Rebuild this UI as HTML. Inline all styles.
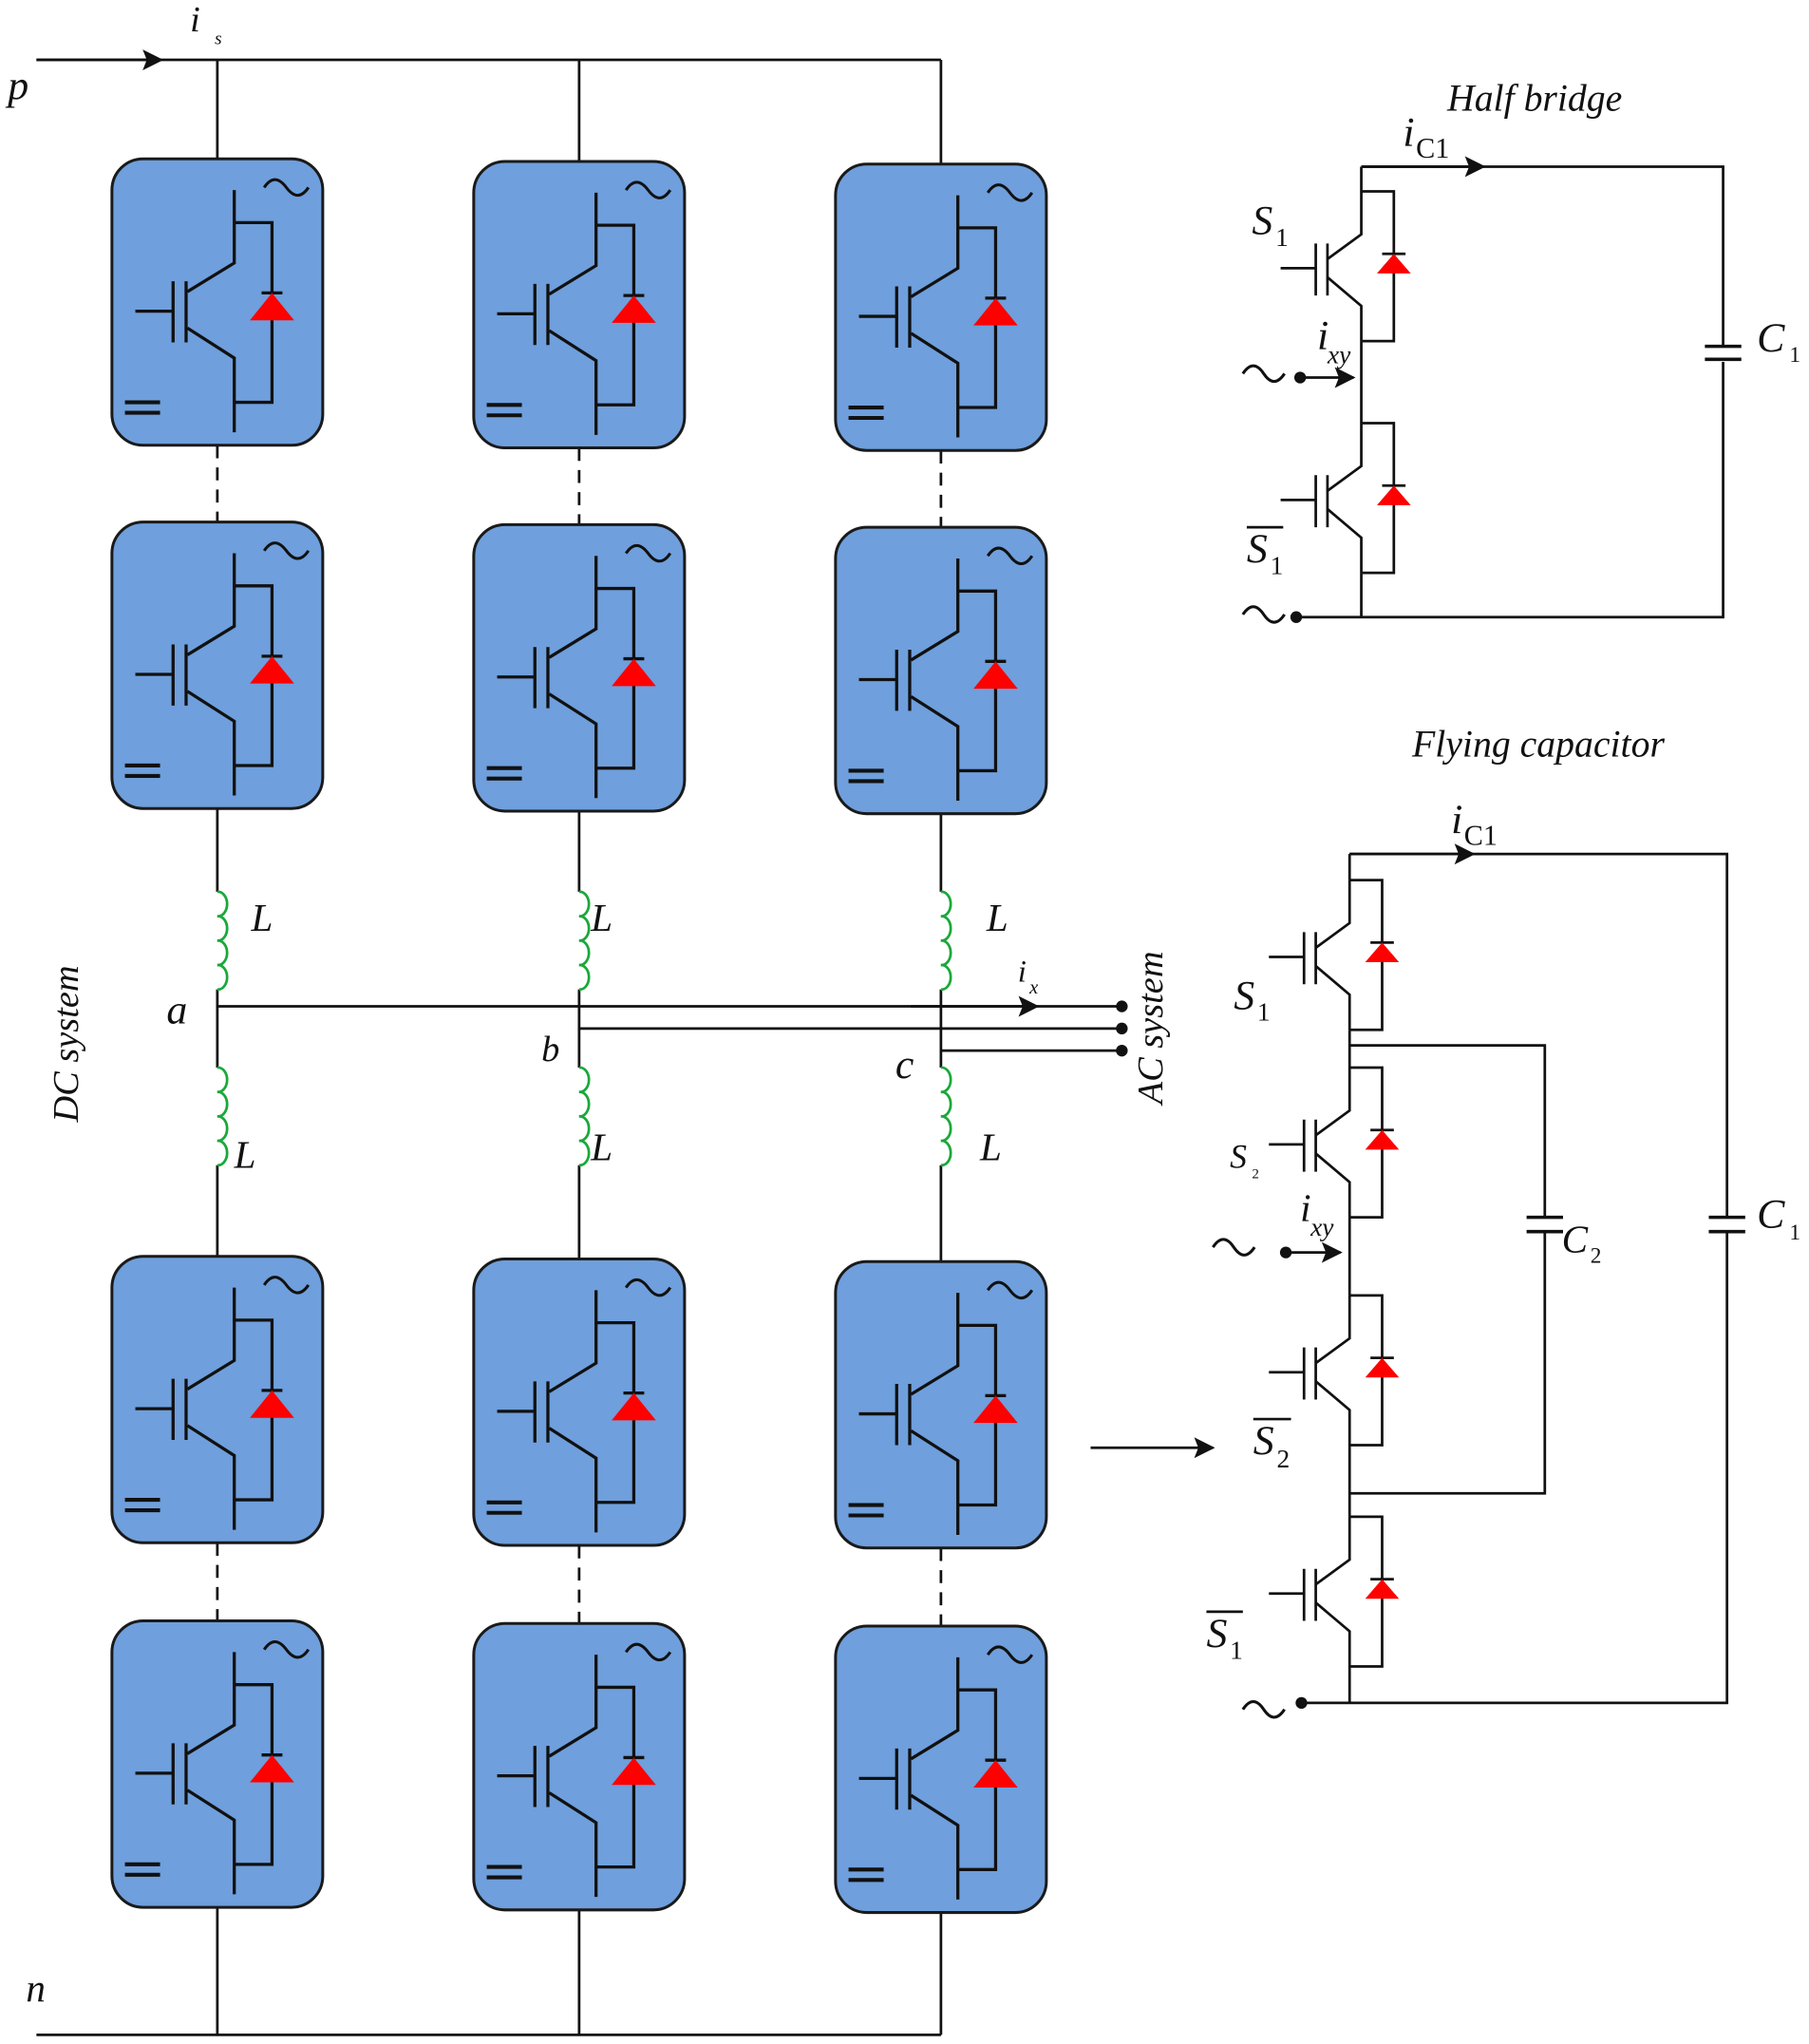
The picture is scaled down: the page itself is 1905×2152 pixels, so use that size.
<!DOCTYPE html>
<html><head><meta charset="utf-8"><style>
html,body{margin:0;padding:0;background:#fff;}
svg{display:block;}
text{font-family:"Liberation Serif","DejaVu Serif",serif;font-style:italic;fill:#111;}
text.n{font-style:normal;}
</style></head><body>
<svg width="1905" height="2152" viewBox="0 0 1390 1570" preserveAspectRatio="none" xmlns="http://www.w3.org/2000/svg" font-family="Liberation Serif, serif">
<defs>
<marker id="ar" viewBox="0 0 10 10" refX="9" refY="5" markerWidth="8" markerHeight="8" orient="auto"><path d="M0,0 L10,5 L0,10 L2,5 Z" fill="#111"/></marker>
<g id="mod">
  <rect x="0" y="0" width="162" height="220" rx="24" ry="24" fill="#6f9fdc" stroke="#1a1a1a" stroke-width="2.2"/>
  <g fill="none" stroke="#111" stroke-width="2.4">
    <path d="M94,24 V80 L58,102"/>
    <path d="M94,49 H123 V187 H94"/>
    <path d="M58,130 L94,153 V210"/>
    <path d="M47,94 V141 M57,94 V141"/>
    <path d="M18,117 H47"/>
    <path d="M115,103 H131"/>
    <path d="M117,22 q8,-12 17,0 t17,0" stroke-width="2.2"/>
    <path d="M10,187 H37 M10,195 H37" stroke-width="3"/>
  </g>
  <path d="M123,103 L140,124 L106,124 Z" fill="#ff0000"/>
</g>
<g id="sw">
  <g fill="none" stroke="#111" stroke-width="2">
    <path d="M0,0 H25 V115 H0"/>
    <path d="M0,0 V33 L-26,52"/>
    <path d="M-26,66 L0,88 V115"/>
    <path d="M-26,40 V80 M-35,40 V80"/>
    <path d="M-62,59 H-35"/>
    <path d="M16,48 H34"/>
  </g>
  <path d="M25,48 L38,63 L12,63 Z" fill="#ff0000"/>
</g>
</defs>

<g fill="none" stroke="#111" stroke-width="2">
  <path d="M28,46 H723"/>
  <path d="M28,46 H124" marker-end="url(#ar)"/>
  <path d="M28,1563 H723"/>
  <path d="M167,46 V122 M167,621 V685 M167,760 V820 M167,895 V965 M167,1465 V1563"/>
  <path d="M445,46 V124 M445,623 V685 M445,760 V820 M445,895 V967 M445,1467 V1563"/>
  <path d="M723,46 V126 M723,625 V685 M723,760 V820 M723,895 V969 M723,1469 V1563"/>
  <path d="M167,342 V401 M445,344 V403 M723,346 V405 M167,1185 V1245 M445,1187 V1247 M723,1189 V1249" stroke-dasharray="10,7"/>
  <path d="M167,773 H862 M445,790 H862 M723,807 H862"/>
  <path d="M700,773 H797" marker-end="url(#ar)"/>
  <path d="M838,1112 H932" marker-end="url(#ar)"/>
</g>
<circle cx="862" cy="773" r="4.5" fill="#111"/>
<circle cx="862" cy="790" r="4.5" fill="#111"/>
<circle cx="862" cy="807" r="4.5" fill="#111"/>

<g fill="none" stroke="#1aa83a" stroke-width="2">
  <path d="M167,685 a7,9.4 0 1 1 0,18.75 a7,9.4 0 1 1 0,18.75 a7,9.4 0 1 1 0,18.75 a7,9.4 0 1 1 0,18.75"/>
  <path d="M167,820 a7,9.4 0 1 1 0,18.75 a7,9.4 0 1 1 0,18.75 a7,9.4 0 1 1 0,18.75 a7,9.4 0 1 1 0,18.75"/>
  <path d="M445,685 a7,9.4 0 1 1 0,18.75 a7,9.4 0 1 1 0,18.75 a7,9.4 0 1 1 0,18.75 a7,9.4 0 1 1 0,18.75"/>
  <path d="M445,820 a7,9.4 0 1 1 0,18.75 a7,9.4 0 1 1 0,18.75 a7,9.4 0 1 1 0,18.75 a7,9.4 0 1 1 0,18.75"/>
  <path d="M723,685 a7,9.4 0 1 1 0,18.75 a7,9.4 0 1 1 0,18.75 a7,9.4 0 1 1 0,18.75 a7,9.4 0 1 1 0,18.75"/>
  <path d="M723,820 a7,9.4 0 1 1 0,18.75 a7,9.4 0 1 1 0,18.75 a7,9.4 0 1 1 0,18.75 a7,9.4 0 1 1 0,18.75"/>
</g>

<use href="#mod" x="86" y="122"/><use href="#mod" x="86" y="401"/><use href="#mod" x="86" y="965"/><use href="#mod" x="86" y="1245"/>
<use href="#mod" x="364" y="124"/><use href="#mod" x="364" y="403"/><use href="#mod" x="364" y="967"/><use href="#mod" x="364" y="1247"/>
<use href="#mod" x="642" y="126"/><use href="#mod" x="642" y="405"/><use href="#mod" x="642" y="969"/><use href="#mod" x="642" y="1249"/>

<text x="146" y="24" font-size="28">i</text><text x="165" y="34" font-size="14">s</text>
<text x="6" y="76" font-size="32">p</text>
<text x="20" y="1537" font-size="30">n</text>
<text x="193" y="715" font-size="30">L</text>
<text x="180" y="897" font-size="30">L</text>
<text x="454" y="715" font-size="30">L</text>
<text x="454" y="891" font-size="30">L</text>
<text x="758" y="715" font-size="30">L</text>
<text x="753" y="891" font-size="30">L</text>
<text x="128" y="786" font-size="32">a</text>
<text x="416" y="815" font-size="28">b</text>
<text x="688" y="828" font-size="32">c</text>
<text x="782" y="754" font-size="24">i</text><text x="791" y="763" font-size="15">x</text>
<text transform="translate(60,862) rotate(-90)" font-size="28">DC system</text>
<text transform="translate(893,848) rotate(-90)" font-size="28">AC system</text>

<text x="1112" y="85" font-size="29">Half bridge</text>
<g fill="none" stroke="#111" stroke-width="2">
  <path d="M1046,128 H1324 V266 M1324,278 V474 H996"/>
  <path d="M1046,128 H1140" marker-end="url(#ar)"/>
  <path d="M1310,266 H1338 M1310,276 H1338" stroke-width="2.6"/>
  <path d="M1046,128 V147 M1046,262 V325 M1046,440 V474"/>
  <path d="M999,290 H1040" marker-end="url(#ar)"/>
  <path d="M955,287 q8,-12 16,0 t16,0 M955,472 q8,-12 16,0 t16,0" stroke-width="2.2"/>
</g>
<use href="#sw" x="1046" y="147"/><use href="#sw" x="1046" y="325"/>
<circle cx="999" cy="290" r="4.5" fill="#111"/>
<circle cx="996" cy="474" r="4.5" fill="#111"/>
<text x="1078" y="112" font-size="32">i</text><text class="n" x="1088" y="121" font-size="22">C1</text>
<text x="1350" y="270" font-size="32">C</text><text class="n" x="1375" y="278" font-size="17">1</text>
<text x="962" y="180" font-size="32">S</text><text class="n" x="980" y="189" font-size="20">1</text>
<text x="958" y="432" font-size="32">S</text><text class="n" x="976" y="441" font-size="20">1</text>
<path d="M958,405 H986" stroke="#111" stroke-width="2"/>
<text x="1012" y="268" font-size="32">i</text><text x="1020" y="279" font-size="20">xy</text>

<text x="1085" y="581" font-size="29">Flying capacitor</text>
<g fill="none" stroke="#111" stroke-width="2">
  <path d="M1037,656 H1327 V935 M1327,946 V1308 H1000"/>
  <path d="M1037,656 H1132" marker-end="url(#ar)"/>
  <path d="M1313,935 H1341 M1313,946 H1341" stroke-width="2.6"/>
  <path d="M1037,803 H1187 V935 M1187,946 V1147 H1037"/>
  <path d="M1173,935 H1201 M1173,946 H1201" stroke-width="2.6"/>
  <path d="M1037,656 V676 M1037,791 V820 M1037,935 V995 M1037,1110 V1165 M1037,1280 V1308"/>
  <path d="M988,962 H1030" marker-end="url(#ar)"/>
  <path d="M932,958 q8,-12 16,0 t16,0 M955,1313 q8,-12 16,0 t16,0" stroke-width="2.2"/>
</g>
<use href="#sw" x="1037" y="676"/><use href="#sw" x="1037" y="820"/><use href="#sw" x="1037" y="995"/><use href="#sw" x="1037" y="1165"/>
<circle cx="988" cy="962" r="4.5" fill="#111"/>
<circle cx="1000" cy="1308" r="4.5" fill="#111"/>
<text x="1115" y="640" font-size="32">i</text><text class="n" x="1125" y="649" font-size="22">C1</text>
<text x="1350" y="943" font-size="32">C</text><text class="n" x="1375" y="952" font-size="17">1</text>
<text x="1200" y="962" font-size="30">C</text><text class="n" x="1222" y="970" font-size="17">2</text>
<text x="948" y="775" font-size="32">S</text><text class="n" x="966" y="784" font-size="20">1</text>
<text x="945" y="897" font-size="26">S</text><text class="n" x="962" y="905" font-size="11">2</text>
<text x="963" y="1117" font-size="32">S</text><text class="n" x="981" y="1127" font-size="20">2</text>
<path d="M963,1090 H992" stroke="#111" stroke-width="2"/>
<text x="927" y="1265" font-size="32">S</text><text class="n" x="945" y="1274" font-size="20">1</text>
<path d="M927,1238 H955" stroke="#111" stroke-width="2"/>
<text x="999" y="938" font-size="30">i</text><text x="1007" y="949" font-size="20">xy</text>
</svg>
</body></html>
